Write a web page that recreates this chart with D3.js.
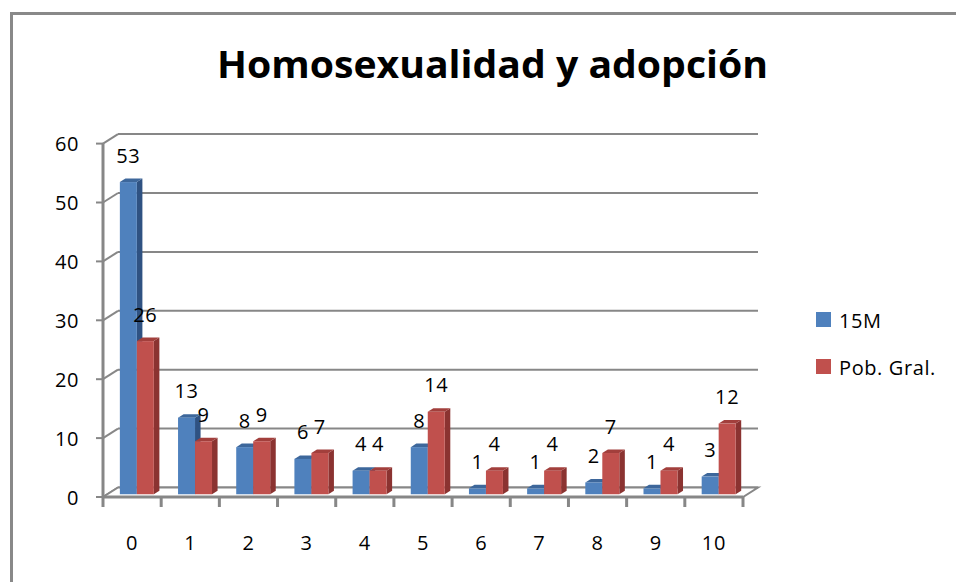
<!DOCTYPE html>
<html>
<head>
<meta charset="utf-8">
<script src="https://cdn.jsdelivr.net/npm/d3@7"></script>
<style>
  body { margin: 0; background: #fff; }
  text { font-family: "Open Sans", "Liberation Sans", sans-serif; fill: #000; }
  .lbl { font-size: 20px; letter-spacing: 0.6px; }
</style>
</head>
<body>
<svg width="956" height="582"></svg>
<script>
var categories = ["0", "1", "2", "3", "4", "5", "6", "7", "8", "9", "10"];
var series_names = ["15M", "Pob. Gral."];
var values_15m = [53, 13, 8, 6, 4, 8, 1, 1, 2, 1, 3];
var values_pob = [26, 9, 9, 7, 4, 14, 4, 4, 7, 4, 12];
var y_ticks = [0, 10, 20, 30, 40, 50, 60];

var front = ["#4f81bd", "#c0504d"];
var side = ["#2f5282", "#8b3331"];
var top_c = ["#3d679b", "#a23f3c"];
var grid = "#878787";

var svg = d3.select("svg");

// front plane scales
var x = d3.scaleBand().domain(categories).range([103, 743]);
var y = d3.scaleLinear().domain([0, 60]).range([497, 143.6]);

// depth of the floor, and where bars sit in it
var depth = {dx: 15, dy: -9.5};
var barFront = 0.29, barBack = 0.66;

// chart frame (top and left only are visible)
svg.append("path")
    .attr("d", "M11.5,582 L11.5,13.5 L956,13.5")
    .attr("fill", "none")
    .attr("stroke", "#898989")
    .attr("stroke-width", 3);

// title
svg.append("text")
    .attr("x", 217).attr("y", 78)
    .attr("textLength", 551).attr("lengthAdjust", "spacingAndGlyphs")
    .style("font-size", "38px").style("font-weight", "bold")
    .text("Homosexualidad y adopción");

// back wall gridlines
svg.selectAll(".grid").data(y_ticks).enter().append("line")
    .attr("x1", 103 + depth.dx).attr("x2", 743 + depth.dx)
    .attr("y1", d => y(d) + depth.dy).attr("y2", d => y(d) + depth.dy)
    .attr("stroke", grid).attr("stroke-width", 2);

// side wall diagonals
svg.selectAll(".diag").data(y_ticks).enter().append("line")
    .attr("x1", 103).attr("x2", 103 + depth.dx)
    .attr("y1", d => y(d)).attr("y2", d => y(d) + depth.dy)
    .attr("stroke", grid).attr("stroke-width", 2);

// floor
svg.append("path")
    .attr("d", "M103," + y(0) + " L743," + y(0) + " L" + (743 + depth.dx) + "," + (y(0) + depth.dy) +
        " L" + (103 + depth.dx) + "," + (y(0) + depth.dy) + "Z")
    .attr("fill", "#fff").attr("stroke", grid).attr("stroke-width", 2);
svg.append("line")
    .attr("x1", 103).attr("x2", 743).attr("y1", y(0)).attr("y2", y(0))
    .attr("stroke", grid).attr("stroke-width", 3);

// value axis line + ticks
svg.append("line")
    .attr("x1", 103).attr("x2", 103).attr("y1", y(60)).attr("y2", y(0))
    .attr("stroke", grid).attr("stroke-width", 3);
svg.selectAll(".ytick").data(y_ticks).enter().append("line")
    .attr("x1", 96).attr("x2", 103)
    .attr("y1", d => y(d)).attr("y2", d => y(d))
    .attr("stroke", grid).attr("stroke-width", 2);
svg.selectAll(".ylab").data(y_ticks).enter().append("text")
    .attr("class", "lbl")
    .attr("x", 79).attr("y", d => y(d))
    .attr("text-anchor", "end").attr("dominant-baseline", "central")
    .text(d => d);

// category ticks and labels
var bounds = categories.map(c => x(c)).concat([743]);
svg.selectAll(".xtick").data(bounds).enter().append("line")
    .attr("x1", d => d).attr("x2", d => d)
    .attr("y1", y(0)).attr("y2", y(0) + 10)
    .attr("stroke", grid).attr("stroke-width", 3);
svg.selectAll(".xlab").data(categories).enter().append("text")
    .attr("class", "lbl")
    .attr("x", d => x(d) + x.bandwidth() / 2).attr("y", 542)
    .attr("text-anchor", "middle").attr("dominant-baseline", "central")
    .text(d => d);

// bars
var bw = x.bandwidth() * 0.292;
var gap = x.bandwidth() * 0.215;
var ox = depth.dx * barFront, oy = depth.dy * barFront;
var ddx = depth.dx * (barBack - barFront), ddy = depth.dy * (barBack - barFront);

var bars = [];
categories.forEach(function (c, i) {
    [values_15m[i], values_pob[i]].forEach(function (v, s) {
        bars.push({cat: c, s: s, v: v});
    });
});

var g = svg.selectAll(".bar").data(bars).enter().append("g");
function geo(d) {
    var x0 = x(d.cat) + gap + d.s * bw + ox;
    var x1 = x0 + bw;
    var yb = y(0) + oy;
    var yt = y(d.v) + oy;
    return {x0: x0, x1: x1, yb: yb, yt: yt};
}
g.append("path")
    .attr("d", d => { var b = geo(d);
        return "M" + b.x1 + "," + b.yb + " L" + (b.x1 + ddx) + "," + (b.yb + ddy) +
            " L" + (b.x1 + ddx) + "," + (b.yt + ddy) + " L" + b.x1 + "," + b.yt + "Z"; })
    .attr("fill", d => side[d.s]);
g.append("path")
    .attr("d", d => { var b = geo(d);
        return "M" + b.x0 + "," + b.yt + " L" + b.x1 + "," + b.yt + " L" + (b.x1 + ddx) + "," + (b.yt + ddy) +
            " L" + (b.x0 + ddx) + "," + (b.yt + ddy) + "Z"; })
    .attr("fill", d => top_c[d.s]);
g.append("rect")
    .attr("x", d => geo(d).x0).attr("width", bw)
    .attr("y", d => geo(d).yt).attr("height", d => geo(d).yb - geo(d).yt)
    .attr("fill", d => front[d.s]);

// data labels
svg.selectAll(".dlab").data(bars).enter().append("text")
    .attr("class", "lbl")
    .attr("x", d => geo(d).x0 + bw / 2)
    .attr("y", d => geo(d).yt - 27)
    .attr("text-anchor", "middle").attr("dominant-baseline", "central")
    .text(d => d.v);

// legend
var leg = svg.selectAll(".leg").data(series_names).enter().append("g")
    .attr("transform", (d, i) => "translate(816," + (312 + i * 47) + ")");
leg.append("rect").attr("width", 15).attr("height", 15).attr("fill", (d, i) => front[i]);
leg.append("text").attr("class", "lbl").attr("x", 23).attr("y", 8)
    .attr("dominant-baseline", "central")
    .text(d => d);
</script>
</body>
</html>
